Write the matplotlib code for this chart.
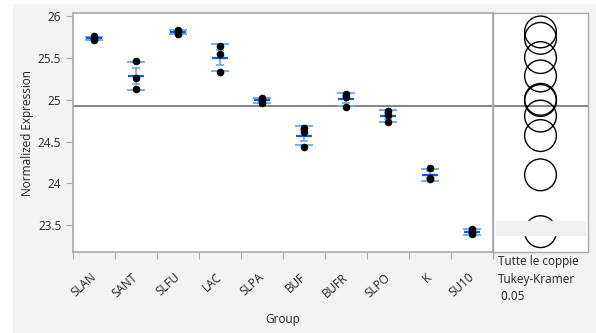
import numpy as np
import matplotlib.pyplot as plt
from matplotlib.patches import Circle, Rectangle

groups = ['SLAN', 'SANT', 'SLFU', 'LAC', 'SLPA', 'BUF', 'BUFR', 'SLPO', 'K', 'SU10']
values = [
    [25.76, 25.73, 25.72],
    [25.47, 25.26, 25.13],
    [25.84, 25.81, 25.79],
    [25.64, 25.55, 25.33],
    [25.02, 25.00, 24.96],
    [24.66, 24.62, 24.44],
    [25.07, 25.03, 24.92],
    [24.87, 24.82, 24.73],
    [24.19, 24.07, 24.05],
    [23.46, 23.42, 23.39],
]
circle_radius = 0.19
yticks = [23.5, 24, 24.5, 25, 25.5, 26]
notes = ['Tutte le coppie', 'Tukey-Kramer', ' 0.05']

bg = '#f3f3f3'
blue = '#0a5ce8'
lblue = '#6fa4f2'
spine = '#a8a8a8'
txt = '#222222'

plt.rcParams['font.family'] = ['Segoe UI', 'Open Sans', 'DejaVu Sans']
fig = plt.figure(figsize=(5.96, 3.33), dpi=100, facecolor='white')
fig.patches.append(Rectangle((13/596, 0), 1, 1 - 4/333, transform=fig.transFigure,
                             color=bg, zorder=-10))
ax = fig.add_axes([73/596, 1-252/333, 420/596, 239/333])
ax2 = fig.add_axes([493/596, 1-252/333, 95/596, 239/333])

ylim = (23.18, 26.04)
means = [np.mean(v) for v in values]
sds = [np.std(v, ddof=1) for v in values]
ses = [s / np.sqrt(len(v)) for s, v in zip(sds, values)]
grand = np.mean(np.concatenate(values))

for i, v in enumerate(values):
    x = i + 0.5
    m, s, se = means[i], sds[i], ses[i]
    ax.hlines([m - s, m + s], x - 0.22, x + 0.22, color=lblue, lw=1.3, zorder=2)
    ax.vlines(x, m - se, m + se, color=lblue, lw=1.2, zorder=2)
    ax.hlines([m - se, m + se], x - 0.1, x + 0.1, color=lblue, lw=1.2, zorder=2)
    ax.hlines(m, x - 0.19, x + 0.19, color=blue, lw=1.6, zorder=3)
    ax.scatter([x] * len(v), v, s=20, color='black', zorder=4)

ax.axhline(grand, color='#707070', lw=1.2, zorder=1)
ax.set_xlim(0, len(groups))
ax.set_ylim(*ylim)
ax.set_xticks(np.arange(len(groups) + 1))
ax.set_xticklabels([])
ax.set_xticks(np.arange(len(groups)) + 0.5, minor=True)
ax.set_xticklabels(groups, minor=True, rotation=42, ha='right', va='center',
                   rotation_mode='anchor', fontsize=8.5, color=txt)
ax.tick_params(axis='x', which='minor', length=0, pad=17)
ax.tick_params(axis='x', which='major', length=5, color=spine)
ax.set_yticks(yticks)
ax.set_yticklabels([f'{t:g}' for t in yticks], fontsize=8.5, color=txt)
ax.tick_params(axis='y', length=5, color=spine)
ax.set_ylabel('Normalized Expression', fontsize=8.5, color=txt, labelpad=3)
ax.set_xlabel('Group', fontsize=8.5, color=txt, va='center')
ax.xaxis.set_label_coords(0.5, (252 - 320) / 239)
for sp in ax.spines.values():
    sp.set_color(spine)
    sp.set_linewidth(1.2)

# comparison circles
ax2.set_ylim(*ylim)
w = (ylim[1] - ylim[0]) * 95 / 239
ax2.set_xlim(0, w)
ax2.axhline(grand, color='#707070', lw=1.2, zorder=1)
for m in means:
    ax2.add_patch(Circle((w / 2, m), circle_radius, fill=False, ec='black', lw=1.0, zorder=2))
ax2.add_patch(Rectangle((0.04, 23.38), w - 0.08, 0.17, color='#f0f0f0', zorder=3))
ax2.set_xticks([])
ax2.set_yticks([])
for sp in ax2.spines.values():
    sp.set_color(spine)
    sp.set_linewidth(1.0)

for k, t in enumerate(notes):
    fig.text(498/596, 1 - (262 + 17 * k)/333, t, fontsize=8.5, color=txt, va='center')

fig.savefig('out.png', dpi=100, facecolor='white')
